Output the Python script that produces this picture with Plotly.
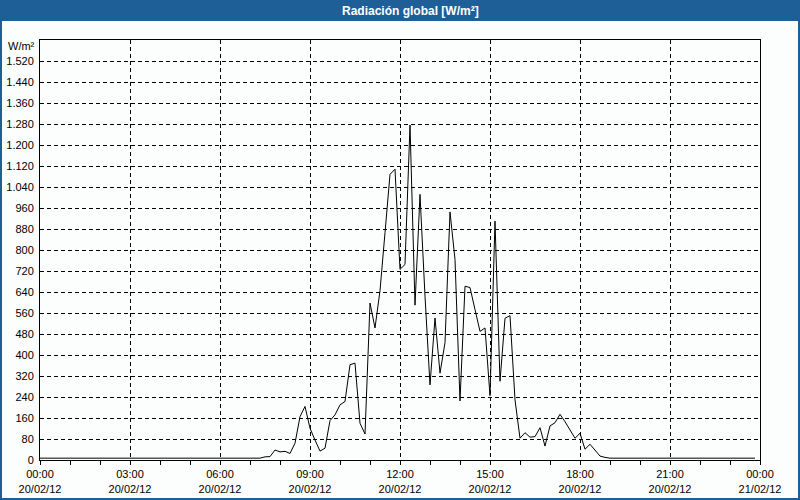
import plotly.graph_objects as go

# ---- data (10-minute readings, W/m²) ----
times = [
    "2012-02-20 00:00", "2012-02-20 07:20", "2012-02-20 07:30", "2012-02-20 07:40",
    "2012-02-20 07:50", "2012-02-20 08:00", "2012-02-20 08:10", "2012-02-20 08:20",
    "2012-02-20 08:30", "2012-02-20 08:40", "2012-02-20 08:50", "2012-02-20 09:00",
    "2012-02-20 09:10", "2012-02-20 09:20", "2012-02-20 09:30", "2012-02-20 09:40",
    "2012-02-20 09:50", "2012-02-20 10:00", "2012-02-20 10:10", "2012-02-20 10:20",
    "2012-02-20 10:30", "2012-02-20 10:40", "2012-02-20 10:50", "2012-02-20 11:00",
    "2012-02-20 11:10", "2012-02-20 11:20", "2012-02-20 11:30", "2012-02-20 11:40",
    "2012-02-20 11:50", "2012-02-20 12:00", "2012-02-20 12:10", "2012-02-20 12:20",
    "2012-02-20 12:30", "2012-02-20 12:40", "2012-02-20 12:50", "2012-02-20 13:00",
    "2012-02-20 13:10", "2012-02-20 13:20", "2012-02-20 13:30", "2012-02-20 13:40",
    "2012-02-20 13:50", "2012-02-20 14:00", "2012-02-20 14:10", "2012-02-20 14:20",
    "2012-02-20 14:30", "2012-02-20 14:40", "2012-02-20 14:50", "2012-02-20 15:00",
    "2012-02-20 15:10", "2012-02-20 15:20", "2012-02-20 15:30", "2012-02-20 15:40",
    "2012-02-20 15:50", "2012-02-20 16:00", "2012-02-20 16:10", "2012-02-20 16:20",
    "2012-02-20 16:30", "2012-02-20 16:40", "2012-02-20 16:50", "2012-02-20 17:00",
    "2012-02-20 17:10", "2012-02-20 17:20", "2012-02-20 17:30", "2012-02-20 17:40",
    "2012-02-20 17:50", "2012-02-20 18:00", "2012-02-20 18:10", "2012-02-20 18:20",
    "2012-02-20 18:30", "2012-02-20 18:40", "2012-02-20 18:50", "2012-02-20 19:00",
    "2012-02-20 23:50",
]
radiation = [
    7, 7, 12, 13,
    38, 31, 33, 25,
    64, 165, 204, 121,
    76, 34, 45, 150,
    172, 210, 223, 363,
    369, 140, 99, 598,
    503, 645, 866, 1088,
    1108, 726, 745, 1276,
    590, 1012, 624, 286,
    541, 331, 447, 945,
    764, 225, 662, 657,
    573, 490, 503, 245,
    910, 300, 540, 550,
    229, 83, 104, 87,
    89, 123, 53, 130,
    142, 174, 146, 115,
    83, 102, 41, 60,
    36, 15, 10, 7,
    7,
]

x_tickvals = [
    "2012-02-20 00:00", "2012-02-20 03:00", "2012-02-20 06:00", "2012-02-20 09:00",
    "2012-02-20 12:00", "2012-02-20 15:00", "2012-02-20 18:00", "2012-02-20 21:00",
    "2012-02-21 00:00",
]
x_ticktext = [
    "00:00<br>20/02/12", "03:00<br>20/02/12", "06:00<br>20/02/12", "09:00<br>20/02/12",
    "12:00<br>20/02/12", "15:00<br>20/02/12", "18:00<br>20/02/12", "21:00<br>20/02/12",
    "00:00<br>21/02/12",
]
y_tickvals = [0, 80, 160, 240, 320, 400, 480, 560, 640, 720, 800, 880, 960,
              1040, 1120, 1200, 1280, 1360, 1440, 1520]

title_text = "Radiación global [W/m²]"
unit_text = "W/m²"

# ---- layout geometry (pixels) ----
W, H = 800, 500
L, R, T, B = 40, 40, 40, 40
pw, ph = W - L - R, H - T - B


def px(x):
    return (x - L) / pw


def py(y):
    return (H - B - y) / ph


BLUE = "#1f5f98"
BG = "#fcfdfd"
FONT = "Liberation Sans"

fig = go.Figure()
fig.add_trace(go.Scatter(
    x=times, y=radiation, mode="lines",
    line=dict(color="black", width=1),
    hoverinfo="skip", showlegend=False,
))

fig.update_layout(
    width=W, height=H,
    margin=dict(l=L, r=R, t=T, b=B, pad=0, autoexpand=False),
    paper_bgcolor=BLUE,
    plot_bgcolor=BG,
    separators=",.",
    font=dict(family=FONT, size=11, color="#000000"),
    showlegend=False,
    shapes=[
        dict(type="rect", xref="paper", yref="paper", layer="below",
             x0=px(2), x1=px(798), y0=py(498), y1=py(21),
             fillcolor=BG, line=dict(width=0)),
    ],
    annotations=[
        dict(text="<b>" + title_text + "</b>", xref="paper", yref="paper",
             x=px(411), y=py(10.5), xanchor="center", yanchor="middle",
             showarrow=False, font=dict(family=FONT, size=12, color="white")),
        dict(text=unit_text, xref="paper", yref="paper",
             x=px(37), y=py(46), xanchor="right", yanchor="middle",
             showarrow=False, font=dict(family=FONT, size=11, color="#000000")),
    ],
)

fig.update_xaxes(
    type="date", automargin=False,
    range=["2012-02-20 00:00", "2012-02-21 00:00"],
    tickmode="array", tickvals=x_tickvals, ticktext=x_ticktext,
    ticks="outside", ticklen=4, tickcolor="black", tickwidth=1,
    minor=dict(dtick=3600000, ticks="outside", ticklen=4, tickcolor="black",
               tickwidth=1, showgrid=False),
    showgrid=True, gridcolor="black", gridwidth=1, griddash="4px,3px",
    showline=True, linecolor="black", linewidth=1, mirror=True,
    zeroline=False, fixedrange=True,
)
fig.update_yaxes(
    automargin=False,
    range=[0, 1600],
    tickmode="array", tickvals=y_tickvals, tickformat=",d",
    ticks="", showgrid=True, gridcolor="black", gridwidth=1, griddash="4px,3px",
    showline=True, linecolor="black", linewidth=1, mirror=True,
    zeroline=False, fixedrange=True, ticklabelstandoff=3,
)

fig.write_html("out.html")
